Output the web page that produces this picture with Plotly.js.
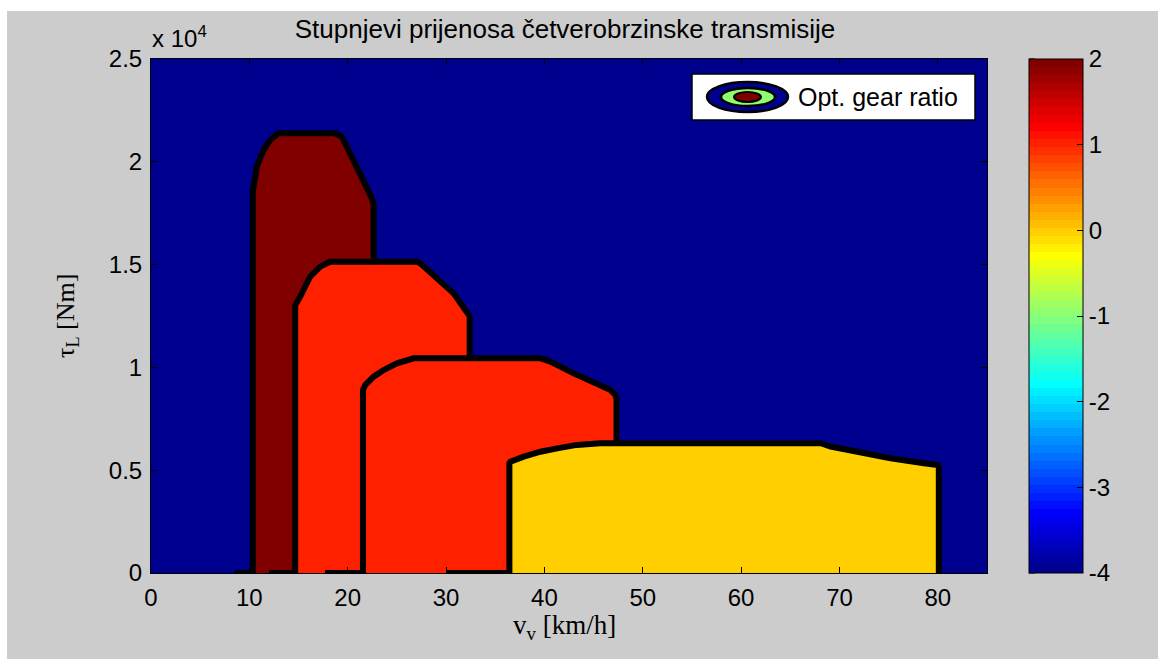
<!DOCTYPE html>
<html>
<head>
<meta charset="utf-8">
<script src="https://cdn.plot.ly/plotly-3.0.1.min.js"></script>
<style>html,body{margin:0;padding:0;background:#fff;}#chart{width:1158px;height:659px;}</style>
</head>
<body>
<div id="chart"></div>
<script>
// ---------------- data ----------------
const gearNames = ['1. stupanj', '2. stupanj', '3. stupanj', '4. stupanj'];
const gearValues = [2, 1, 1, 0];           // colour value of each gear region
// outline points (first point = start of the short bottom contour segment)
const g1x = [8.5, 10.35, 10.35, 10.76, 11.43, 12.11, 12.96, 18.73, 19.41, 21.95, 22.46, 22.63, 22.63];
const g1y = [0, 0, 18550, 19760, 20570, 21060, 21390, 21390, 21220, 18790, 18220, 17900, 0];
const g2x = [12.0, 14.66, 14.66, 15.17, 16.18, 17.2, 18.2, 27.04, 27.38, 30.77, 31.96, 32.4, 32.4];
const g2y = [0, 0, 13030, 13440, 14410, 14900, 15140, 15140, 15060, 13600, 12790, 12500, 0];
const g3x = [17.7, 21.55, 21.55, 21.78, 22.63, 23.65, 25.0, 26.7, 39.6, 40.6, 42.98, 45.02, 46.72, 47.23, 47.33, 47.33];
const g3y = [0, 0, 8900, 9140, 9550, 9870, 10200, 10440, 10440, 10280, 9710, 9230, 8900, 8660, 8450, 0];
const g4x = [30.0, 36.44, 36.44, 36.54, 37.9, 39.6, 41.3, 43.3, 45.7, 68.1, 69.1, 71.8, 75.2, 78.6, 80.0, 80.1, 80.1];
const g4y = [0, 0, 5340, 5410, 5660, 5900, 6060, 6230, 6310, 6310, 6150, 5900, 5580, 5340, 5250, 5150, 0];
const xTicks = [0, 10, 20, 30, 40, 50, 60, 70, 80];
const yTickVals = [0, 5000, 10000, 15000, 20000, 25000];
const yTickText = ['0', '0.5', '1', '1.5', '2', '2.5'];
const cbTicks = [-4, -3, -2, -1, 0, 1, 2];
const cbTickText = ['-4', '-3', '-2', '-1', '0', '1', '2'];
const cMin = -4, cMax = 2;
const legendValues = [-4, -1, 2];   // outer, middle, inner ring of the legend icon

// ---------------- MATLAB jet(64) ----------------
function jetMap(m) {
  const n = Math.ceil(m / 4);
  const u = [];
  for (let i = 1; i <= n; i++) u.push(i / n);
  for (let i = 1; i < n; i++) u.push(1);
  for (let i = n; i >= 1; i--) u.push(i / n);
  const gOff = Math.ceil(n / 2) - ((m % 4) === 1 ? 1 : 0);
  const J = [];
  for (let i = 0; i < m; i++) J.push([0, 0, 0]);
  for (let k = 1; k <= u.length; k++) {
    const gi = gOff + k, ri = gi + n, bi = gi - n;
    if (ri >= 1 && ri <= m) J[ri - 1][0] = u[k - 1];
    if (gi >= 1 && gi <= m) J[gi - 1][1] = u[k - 1];
    if (bi >= 1 && bi <= m) J[bi - 1][2] = u[k - 1];
  }
  return J.map(c => 'rgb(' + c.map(v => Math.round(v * 255)).join(',') + ')');
}
const JET = jetMap(64);
function jetColor(v) {
  let idx = Math.floor((v - cMin) / (cMax - cMin) * 64);
  idx = Math.max(0, Math.min(63, idx));
  return JET[idx];
}
const colorscale = [];
JET.forEach((c, i) => { colorscale.push([i / 64, c]); colorscale.push([(i + 1) / 64, c]); });

// ---------------- traces ----------------
const gx = [g1x, g2x, g3x, g4x];
const gy = [g1y, g2y, g3y, g4y];
const traces = [];
gx.forEach((xs, i) => {
  traces.push({
    type: 'scatter', mode: 'lines', name: gearNames[i],
    x: xs.slice(1), y: gy[i].slice(1), fill: 'toself',
    fillcolor: jetColor(gearValues[i]), line: {width: 0, color: 'rgba(0,0,0,0)'},
    showlegend: false, hoverinfo: 'skip'
  });
  traces.push({
    type: 'scatter', mode: 'lines', name: gearNames[i] + ' kontura',
    x: xs, y: gy[i], line: {width: 6, color: '#000'},
    showlegend: false, hoverinfo: 'skip'
  });
});
// colour scale carrier
traces.push({
  type: 'scatter', mode: 'markers', x: [null], y: [null], showlegend: false, hoverinfo: 'skip',
  marker: {
    color: gearValues, cmin: cMin, cmax: cMax, colorscale: colorscale, showscale: true, size: 1, opacity: 0,
    colorbar: {
      x: (1029 - 151) / 836, xanchor: 'left', xpad: 0, y: 0.5, yanchor: 'middle', ypad: 0,
      len: 1, lenmode: 'fraction', thickness: 54, thicknessmode: 'pixels',
      outlinewidth: 1, outlinecolor: '#000', tickmode: 'array', tickvals: cbTicks, ticktext: cbTickText,
      ticks: 'inside', ticklen: 6, tickcolor: '#000', tickwidth: 1,
      tickfont: {family: 'Liberation Sans, Arial, sans-serif', size: 24, color: '#000'}
    }
  }
});

// ---------------- layout helpers (pixel -> paper) ----------------
const PL = 151, PR = 987, PT = 59, PB = 573;
const px = v => (v - PL) / (PR - PL);
const py = v => (PB - v) / (PB - PT);

const shapes = [
  {type: 'rect', xref: 'paper', yref: 'paper', x0: px(0), x1: px(7), y0: py(659), y1: py(0), fillcolor: '#fff', line: {width: 0}, layer: 'below'},
  {type: 'rect', xref: 'paper', yref: 'paper', x0: px(0), x1: px(1158), y0: py(11), y1: py(0), fillcolor: '#fff', line: {width: 0}, layer: 'below'},
  // legend box
  {type: 'rect', xref: 'paper', yref: 'paper', x0: px(692), x1: px(975), y0: py(120), y1: py(74), fillcolor: '#fff', line: {width: 1.5, color: '#000'}, layer: 'above'},
  {type: 'circle', xref: 'paper', yref: 'paper', x0: px(707), x1: px(788), y0: py(112), y1: py(82), fillcolor: jetColor(legendValues[0]), line: {width: 2.5, color: '#000'}, layer: 'above'},
  {type: 'circle', xref: 'paper', yref: 'paper', x0: px(721), x1: px(775), y0: py(106), y1: py(88), fillcolor: jetColor(legendValues[1]), line: {width: 2.5, color: '#000'}, layer: 'above'},
  {type: 'circle', xref: 'paper', yref: 'paper', x0: px(734), x1: px(761), y0: py(102), y1: py(92), fillcolor: jetColor(legendValues[2]), line: {width: 2, color: '#000'}, layer: 'above'}
];
// colour bar ticks on the left edge as well (MATLAB style)
cbTicks.forEach(t => {
  const yy = (t - cMin) / (cMax - cMin);
  shapes.push({type: 'line', xref: 'paper', yref: 'paper', x0: px(1029), x1: px(1035), y0: yy, y1: yy,
               line: {width: 1, color: '#000'}, layer: 'above'});
});

const annotations = [
  {xref: 'paper', yref: 'paper', x: px(150), y: py(37), xanchor: 'left', yanchor: 'middle', showarrow: false,
   text: 'x 10<sup>4</sup>', font: {family: 'Liberation Sans, Arial, sans-serif', size: 24, color: '#000'}},
  {xref: 'paper', yref: 'paper', x: px(796), y: py(97), xanchor: 'left', yanchor: 'middle', showarrow: false,
   text: 'Opt. gear ratio', font: {family: 'Liberation Sans, Arial, sans-serif', size: 25, color: '#000'}},
  {xref: 'paper', yref: 'paper', x: px(67), y: 0.5, xanchor: 'center', yanchor: 'middle', showarrow: false, textangle: -90,
   text: 'τ<sub>L</sub> [Nm]', font: {family: 'Liberation Serif, Times New Roman, serif', size: 26, color: '#000'}},
  {xref: 'paper', yref: 'paper', x: px(564), y: py(627), xanchor: 'center', yanchor: 'middle', showarrow: false,
   text: 'v<sub>v</sub> [km/h]', font: {family: 'Liberation Serif, Times New Roman, serif', size: 27, color: '#000'}}
];

const axisCommon = {
  showgrid: false, zeroline: false, showline: true, linecolor: '#000', linewidth: 1, mirror: 'ticks',
  ticks: 'inside', ticklen: 6, tickcolor: '#000', tickwidth: 1, ticklabelstandoff: 3,
  tickfont: {family: 'Liberation Sans, Arial, sans-serif', size: 24, color: '#000'}, fixedrange: true
};

const layout = {
  width: 1158, height: 659,
  margin: {l: PL, r: 1158 - PR, t: PT, b: 659 - PB, pad: 0},
  paper_bgcolor: '#CCCCCC', plot_bgcolor: jetColor(cMin),
  title: {text: 'Stupnjevi prijenosa četverobrzinske transmisije', x: px(565), xanchor: 'center', xref: 'paper',
          y: 1 - 29 / 659, yref: 'container', yanchor: 'middle',
          font: {family: 'Liberation Sans, Arial, sans-serif', size: 26, color: '#000'}},
  xaxis: Object.assign({}, axisCommon, {range: [0, 85], tickmode: 'array', tickvals: xTicks}),
  yaxis: Object.assign({}, axisCommon, {range: [0, 25000], tickmode: 'array', tickvals: yTickVals, ticktext: yTickText}),
  shapes: shapes, annotations: annotations, showlegend: false
};

Plotly.newPlot('chart', traces, layout, {displayModeBar: false, staticPlot: true});
</script>
</body>
</html>
